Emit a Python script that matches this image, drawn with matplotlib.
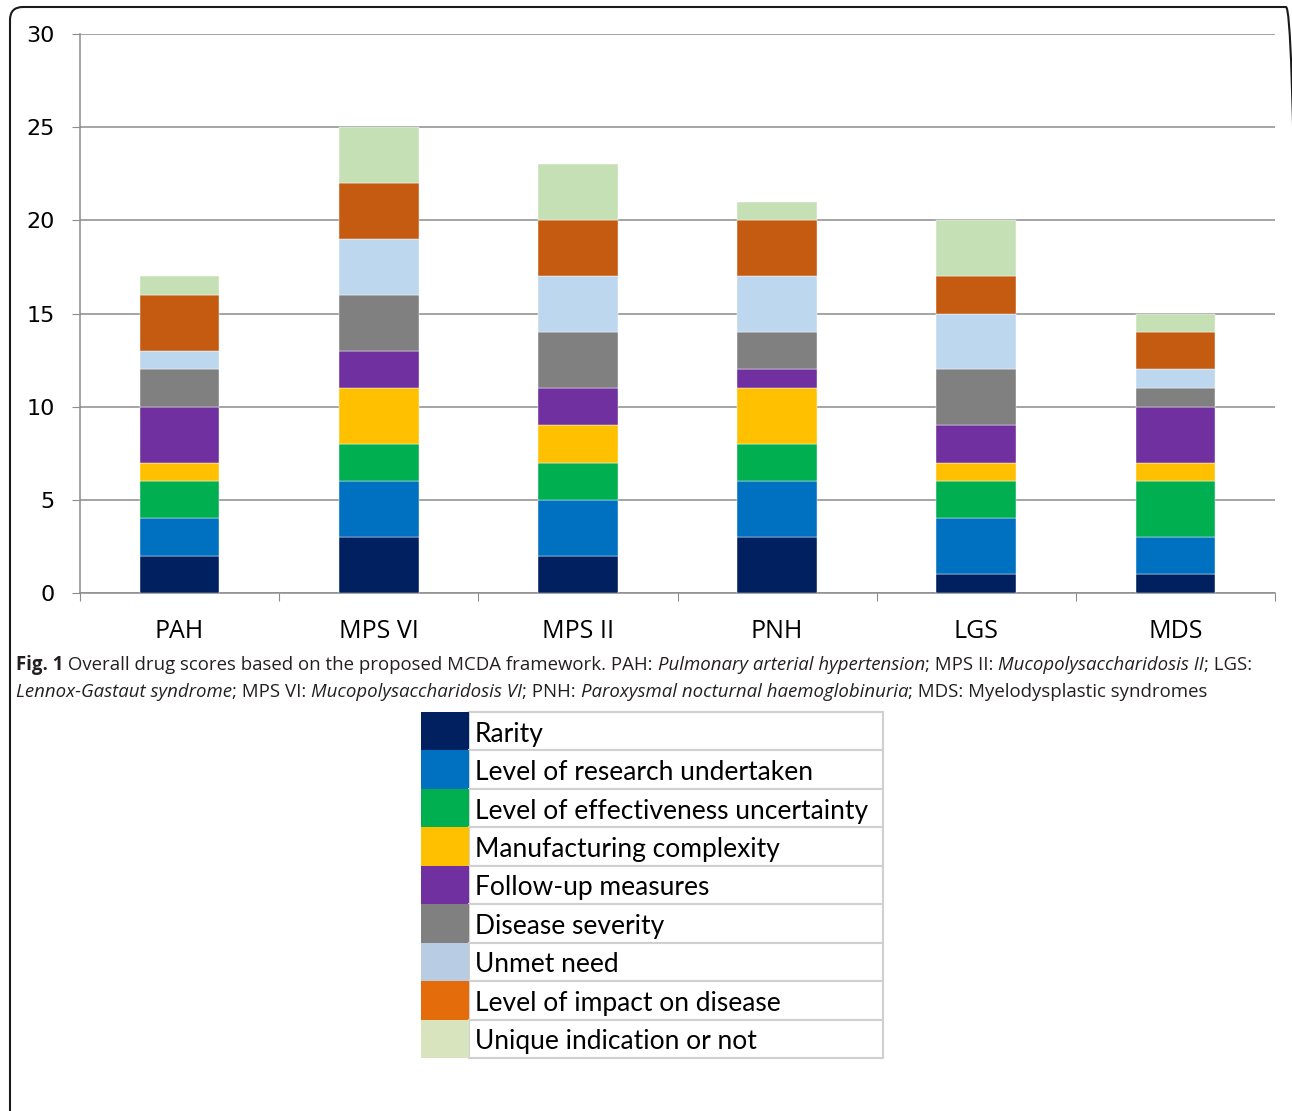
import matplotlib
matplotlib.use("Agg")
import matplotlib.pyplot as plt
from matplotlib import font_manager
from matplotlib.patches import Rectangle, FancyBboxPatch
from matplotlib.transforms import IdentityTransform

# data
diseases = ["PAH", "MPS VI", "MPS II", "PNH", "LGS", "MDS"]
criteria = ["Rarity", "Level of research undertaken",
            "Level of effectiveness uncertainty", "Manufacturing complexity",
            "Follow-up measures", "Disease severity", "Unmet need",
            "Level of impact on disease", "Unique indication or not"]
rarity = [2, 3, 2, 3, 1, 1]
research = [2, 3, 3, 3, 3, 2]
effectiveness = [2, 2, 2, 2, 2, 3]
manufacturing = [1, 3, 2, 3, 1, 1]
follow_up = [3, 2, 2, 1, 2, 3]
severity = [2, 3, 3, 2, 3, 1]
unmet_need = [1, 3, 3, 3, 3, 1]
impact = [3, 3, 3, 3, 2, 2]
unique = [1, 3, 3, 1, 3, 1]
scores = [rarity, research, effectiveness, manufacturing, follow_up,
          severity, unmet_need, impact, unique]
yticks = [0, 5, 10, 15, 20, 25, 30]

bar_colors = ["#002060", "#0070C0", "#00B050", "#FFC000", "#7030A0",
              "#808080", "#BDD7EE", "#C55A11", "#C5E0B4"]
key_colors = ["#002060", "#0070C0", "#00B050", "#FFC000", "#7030A0",
              "#808080", "#B8CCE4", "#E46C0A", "#D7E4BD"]

W, H = 1292, 1111
fig = plt.figure(figsize=(W / 100, H / 100), dpi=100)


def fx(x):
    return x / W


def fy(y):
    return 1 - y / H


# outer frame, in pixels (origin bottom-left)
fig.patches.append(FancyBboxPatch((10, -30), 1299 - 10, (H - 7) + 30,
                                  boxstyle="round,pad=0,rounding_size=13",
                                  transform=IdentityTransform(), fill=False,
                                  edgecolor="#1a1a1a", linewidth=1.5))

ax = fig.add_axes([fx(80), fy(593), fx(1275) - fx(80), fy(34) - fy(593)])
pos = [i + 0.5 for i in range(len(diseases))]
bottom = [0] * len(diseases)
for vals, col, name in zip(scores, bar_colors, criteria):
    ax.bar(pos, vals, width=0.4, bottom=bottom, color=col, label=name,
           edgecolor="white", linewidth=0.3, zorder=3)
    bottom = [b + v for b, v in zip(bottom, vals)]

grid_col = "#8c8c8c"
ax.set_xlim(0, len(diseases))
ax.set_ylim(0, 30)
ax.set_yticks(yticks)
ax.set_yticklabels([str(t) for t in yticks], fontsize=16, family="DejaVu Sans")
ax.yaxis.grid(True, color=grid_col, linewidth=1.1, zorder=0)
ax.set_xticks(range(len(diseases) + 1))
ax.set_xticklabels([])
ax.set_xticks(pos, minor=True)
ax.set_xticklabels(diseases, minor=True, fontsize=18, family="Open Sans")
ax.tick_params(axis="x", which="minor", length=0, pad=19)
ax.tick_params(axis="x", which="major", length=6, color=grid_col, direction="out")
ax.tick_params(axis="y", length=6, color=grid_col, pad=12)
for s in ["top", "right"]:
    ax.spines[s].set_visible(False)
for s in ["left", "bottom"]:
    ax.spines[s].set_color(grid_col)
    ax.spines[s].set_linewidth(1.1)

# caption with mixed weights / styles
names = {f.name for f in font_manager.fontManager.ttflist}
cap_font = "Liberation Sans Narrow" if "Liberation Sans Narrow" in names else "Open Sans"
cap_size = 15.4 if cap_font == "Liberation Sans Narrow" else 13.4
caption = [
    [("Fig. 1", "bold", "normal"),
     (" Overall drug scores based on the proposed MCDA framework. PAH: ", "normal", "normal"),
     ("Pulmonary arterial hypertension", "normal", "italic"),
     ("; MPS II: ", "normal", "normal"),
     ("Mucopolysaccharidosis II", "normal", "italic"),
     ("; LGS:", "normal", "normal")],
    [("Lennox-Gastaut syndrome", "normal", "italic"),
     ("; MPS VI: ", "normal", "normal"),
     ("Mucopolysaccharidosis VI", "normal", "italic"),
     ("; PNH: ", "normal", "normal"),
     ("Paroxysmal nocturnal haemoglobinuria", "normal", "italic"),
     ("; MDS: Myelodysplastic syndromes", "normal", "normal")],
]
renderer = fig.canvas.get_renderer()
for line, base in zip(caption, [670, 697]):
    x = 16
    for txt, wt, st in line:
        t = fig.text(fx(x), fy(base), txt, fontsize=cap_size, family=cap_font,
                     weight=wt, style=st, va="baseline", ha="left", color="#231f20")
        bb = t.get_window_extent(renderer)
        x += bb.width

# key table
row_h = (1058 - 712) / len(criteria)
for i, (name, col) in enumerate(zip(criteria, key_colors)):
    top = 712 + i * row_h
    fig.patches.append(Rectangle((fx(469), fy(top + row_h)), fx(883) - fx(469),
                                 fy(top) - fy(top + row_h), transform=fig.transFigure,
                                 facecolor="white", edgecolor="#d0d0d0", linewidth=1.5))
    fig.patches.append(Rectangle((fx(421), fy(top + row_h)), fx(469) - fx(421),
                                 fy(top) - fy(top + row_h), transform=fig.transFigure,
                                 facecolor=col, edgecolor="none"))
    fig.text(fx(475), fy(top + row_h / 2 + 3), name, fontsize=19, family="Lato",
             va="center", ha="left", color="black")

fig.savefig("out.png", dpi=100)
